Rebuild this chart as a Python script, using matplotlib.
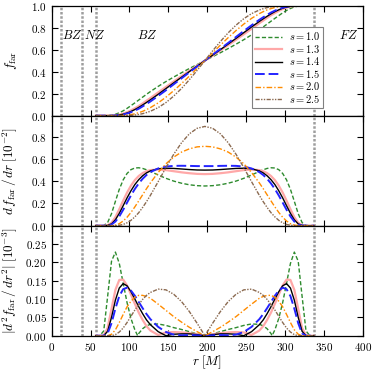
import matplotlib
matplotlib.use('Agg')
import matplotlib.pyplot as plt
from matplotlib.ticker import FuncFormatter

plt.rcParams['mathtext.fontset'] = 'cm'
plt.rcParams['font.family'] = 'serif'
plt.rcParams['font.serif'] = ['DejaVu Serif']

# ---------------- data ----------------
s_labels = ['1.0', '1.3', '1.4', '1.5', '2.0', '2.5']

r = [57, 62, 67, 72, 77, 82, 87, 92, 97, 102, 107, 112, 117, 122, 127, 137, 147, 157, 167, 177, 187, 197,
     207, 217, 227, 237, 247, 257, 267, 272, 277, 282, 287, 292, 297, 302, 307, 312, 317, 322, 327, 332, 337]

# f_far
f_10 = [0, 0, 0, 0.001, 0.004, 0.012, 0.026, 0.044, 0.066, 0.091, 0.116, 0.142, 0.168, 0.194, 0.219, 0.266, 0.310, 0.351, 0.390, 0.428, 0.464, 0.5,
        0.536, 0.572, 0.610, 0.649, 0.690, 0.734, 0.781, 0.806, 0.832, 0.858, 0.884, 0.909, 0.934, 0.956, 0.974, 0.988, 0.996, 0.999, 1, 1, 1]
f_13 = [0, 0, 0, 0, 0.001, 0.003, 0.009, 0.018, 0.031, 0.048, 0.067, 0.088, 0.111, 0.136, 0.160, 0.211, 0.261, 0.311, 0.359, 0.407, 0.454, 0.5,
        0.546, 0.593, 0.641, 0.689, 0.739, 0.789, 0.840, 0.864, 0.889, 0.912, 0.933, 0.952, 0.969, 0.982, 0.991, 0.997, 0.999, 1, 1, 1, 1]
f_14 = [0, 0, 0, 0, 0.000, 0.002, 0.006, 0.013, 0.024, 0.038, 0.055, 0.075, 0.097, 0.120, 0.144, 0.194, 0.246, 0.298, 0.349, 0.400, 0.450, 0.5,
        0.550, 0.600, 0.651, 0.702, 0.754, 0.806, 0.856, 0.880, 0.903, 0.925, 0.945, 0.962, 0.976, 0.987, 0.994, 0.998, 1.000, 1, 1, 1, 1]
f_15 = [0, 0, 0, 0, 0, 0.001, 0.004, 0.010, 0.019, 0.031, 0.046, 0.063, 0.084, 0.106, 0.129, 0.179, 0.231, 0.285, 0.339, 0.393, 0.446, 0.5,
        0.554, 0.607, 0.661, 0.715, 0.769, 0.821, 0.871, 0.894, 0.916, 0.937, 0.954, 0.969, 0.981, 0.990, 0.996, 0.999, 1, 1, 1, 1, 1]
f_20 = [0, 0, 0, 0, 0, 0, 0.001, 0.002, 0.005, 0.010, 0.017, 0.027, 0.039, 0.055, 0.073, 0.116, 0.168, 0.227, 0.291, 0.359, 0.429, 0.5,
        0.571, 0.641, 0.709, 0.773, 0.832, 0.884, 0.927, 0.945, 0.961, 0.973, 0.983, 0.990, 0.995, 0.998, 0.999, 1, 1, 1, 1, 1, 1]
f_25 = [0, 0, 0, 0, 0, 0, 0, 0, 0.001, 0.003, 0.006, 0.011, 0.018, 0.028, 0.040, 0.073, 0.119, 0.178, 0.247, 0.326, 0.411, 0.5,
        0.589, 0.674, 0.753, 0.822, 0.881, 0.927, 0.960, 0.972, 0.982, 0.989, 0.994, 0.997, 0.999, 1, 1, 1, 1, 1, 1, 1, 1]

# d f_far / dr  [1e-2]
d1_10 = [0, 0, 0.001, 0.028, 0.108, 0.219, 0.327, 0.412, 0.470, 0.504, 0.519, 0.521, 0.515, 0.503, 0.488, 0.456, 0.426, 0.401, 0.382, 0.368, 0.360, 0.357,
         0.360, 0.368, 0.382, 0.401, 0.426, 0.456, 0.488, 0.503, 0.515, 0.521, 0.519, 0.504, 0.470, 0.412, 0.327, 0.219, 0.108, 0.028, 0.001, 0, 0]
d1_13 = [0, 0, 0, 0.004, 0.026, 0.077, 0.148, 0.225, 0.298, 0.360, 0.410, 0.447, 0.473, 0.490, 0.500, 0.505, 0.500, 0.490, 0.480, 0.472, 0.466, 0.464,
         0.466, 0.472, 0.480, 0.490, 0.500, 0.505, 0.500, 0.490, 0.473, 0.447, 0.410, 0.360, 0.298, 0.225, 0.148, 0.077, 0.026, 0.004, 0, 0, 0]
d1_14 = [0, 0, 0, 0.002, 0.016, 0.053, 0.111, 0.180, 0.250, 0.314, 0.370, 0.414, 0.449, 0.475, 0.493, 0.512, 0.517, 0.515, 0.510, 0.505, 0.501, 0.500,
         0.501, 0.505, 0.510, 0.515, 0.517, 0.512, 0.493, 0.475, 0.449, 0.414, 0.370, 0.314, 0.250, 0.180, 0.111, 0.053, 0.016, 0.002, 0, 0, 0]
d1_15 = [0, 0, 0, 0.001, 0.010, 0.037, 0.083, 0.143, 0.208, 0.272, 0.330, 0.380, 0.422, 0.456, 0.482, 0.515, 0.532, 0.538, 0.539, 0.538, 0.536, 0.536,
         0.536, 0.538, 0.539, 0.538, 0.532, 0.515, 0.482, 0.456, 0.422, 0.380, 0.330, 0.272, 0.208, 0.143, 0.083, 0.037, 0.010, 0.001, 0, 0, 0]
d1_20 = [0, 0, 0, 0, 0.001, 0.005, 0.018, 0.042, 0.076, 0.119, 0.169, 0.223, 0.278, 0.333, 0.385, 0.479, 0.557, 0.617, 0.662, 0.691, 0.709, 0.714,
         0.709, 0.691, 0.662, 0.617, 0.557, 0.479, 0.385, 0.333, 0.278, 0.223, 0.169, 0.119, 0.076, 0.042, 0.018, 0.005, 0.001, 0, 0, 0, 0]
d1_25 = [0, 0, 0, 0, 0, 0.001, 0.004, 0.011, 0.026, 0.048, 0.079, 0.117, 0.164, 0.216, 0.273, 0.396, 0.523, 0.643, 0.746, 0.826, 0.876, 0.893,
         0.876, 0.826, 0.746, 0.643, 0.523, 0.396, 0.273, 0.216, 0.164, 0.117, 0.079, 0.048, 0.026, 0.011, 0.004, 0.001, 0, 0, 0, 0, 0]

# |d^2 f_far / dr^2|  [1e-3]
r_d2_10 = [57, 62, 67, 72, 77, 82, 87, 92, 97, 102, 107, 110.6, 112, 117, 122, 127, 137, 147, 157, 167, 177, 187, 197,
           207, 217, 227, 237, 247, 257, 267, 272, 277, 282, 283.4, 287, 292, 297, 302, 307, 312, 317, 322, 327, 332, 337]
d2_10 = [0, 0, 0.013, 0.107, 0.203, 0.228, 0.197, 0.143, 0.090, 0.047, 0.016, 0, 0.006, 0.019, 0.027, 0.031, 0.032, 0.028, 0.022, 0.017, 0.011, 0.005, 0,
         0.005, 0.011, 0.017, 0.022, 0.028, 0.032, 0.031, 0.027, 0.019, 0.006, 0, 0.016, 0.047, 0.090, 0.143, 0.197, 0.228, 0.203, 0.107, 0.013, 0, 0]
d2_13 = [0, 0, 0.001, 0.021, 0.073, 0.125, 0.152, 0.153, 0.137, 0.112, 0.087, 0.063, 0.043, 0.026, 0.014, 0.002, 0.009, 0.010, 0.009, 0.007, 0.004, 0,
         0.004, 0.007, 0.009, 0.010, 0.009, 0.002, 0.014, 0.026, 0.043, 0.063, 0.087, 0.112, 0.137, 0.153, 0.152, 0.125, 0.073, 0.021, 0.001, 0, 0]
d2_14 = [0, 0, 0, 0.012, 0.050, 0.097, 0.130, 0.142, 0.136, 0.120, 0.100, 0.079, 0.060, 0.043, 0.030, 0.011, 0.000, 0.004, 0.005, 0.005, 0.003, 0,
         0.003, 0.005, 0.005, 0.004, 0.000, 0.011, 0.030, 0.043, 0.060, 0.079, 0.100, 0.120, 0.136, 0.142, 0.130, 0.097, 0.050, 0.012, 0, 0, 0]
d2_15 = [0, 0, 0, 0.006, 0.034, 0.074, 0.108, 0.127, 0.131, 0.123, 0.109, 0.092, 0.075, 0.059, 0.045, 0.024, 0.010, 0.003, 0.001, 0.002, 0.001, 0,
         0.001, 0.002, 0.001, 0.003, 0.010, 0.024, 0.045, 0.059, 0.075, 0.092, 0.109, 0.123, 0.131, 0.127, 0.108, 0.074, 0.034, 0.006, 0, 0, 0]
d2_20 = [0, 0, 0, 0, 0.004, 0.016, 0.036, 0.058, 0.079, 0.094, 0.105, 0.110, 0.110, 0.107, 0.102, 0.086, 0.069, 0.052, 0.037, 0.023, 0.011, 0,
         0.011, 0.023, 0.037, 0.052, 0.069, 0.086, 0.102, 0.107, 0.110, 0.110, 0.105, 0.094, 0.079, 0.058, 0.036, 0.016, 0.004, 0, 0, 0, 0]
d2_25 = [0, 0, 0, 0, 0, 0.003, 0.010, 0.021, 0.036, 0.053, 0.070, 0.085, 0.099, 0.110, 0.118, 0.127, 0.125, 0.113, 0.093, 0.066, 0.034, 0,
         0.034, 0.066, 0.093, 0.113, 0.125, 0.127, 0.118, 0.110, 0.099, 0.085, 0.070, 0.053, 0.036, 0.021, 0.010, 0.003, 0, 0, 0, 0, 0]

zone_bounds = [12, 39.5, 56.5, 337.5]
zone_names = ['BZ', 'NZ', 'BZ', 'FZ']
zone_label_x = [26.5, 55.5, 123, 382]

# ---------------- styles ----------------
styles = [
    dict(color='#2e8b2e', ls=(0, (3, 1.6)), lw=1.0),
    dict(color='#ffa8a8', ls='-', lw=1.6),
    dict(color='black', ls='-', lw=1.0),
    dict(color='#2424ff', ls=(0, (5, 2)), lw=1.4),
    dict(color='darkorange', ls=(0, (4, 1.5, 1, 1.5)), lw=1.0),
    dict(color='#8b6a50', ls=(0, (3, 1, 1, 1, 1, 1)), lw=1.0),
]

f_all = [f_10, f_13, f_14, f_15, f_20, f_25]
d1_all = [d1_10, d1_13, d1_14, d1_15, d1_20, d1_25]
d2_all = [d2_10, d2_13, d2_14, d2_15, d2_20, d2_25]
r_d2_all = [r_d2_10, r, r, r, r, r]

fig = plt.figure(figsize=(3.74, 3.74), dpi=100)
L, R, B, T = 0.138, 0.970, 0.1024, 0.985
h = (T - B) / 3
ax1 = fig.add_axes([L, B + 2 * h, R - L, h])
ax2 = fig.add_axes([L, B + h, R - L, h])
ax3 = fig.add_axes([L, B, R - L, h])
axes = [ax1, ax2, ax3]

for i in range(6):
    st = styles[i]
    ax1.plot(r, f_all[i], label='$s = %s$' % s_labels[i], **st)
    ax2.plot(r, d1_all[i], **st)
    ax3.plot(r_d2_all[i], d2_all[i], **st)

for ax in axes:
    for xb in zone_bounds:
        ax.axvline(xb, color='0.62', ls=(0, (1, 0.7)), lw=1.8, zorder=0)
    ax.set_xlim(0, 400)
    ax.set_xticks(range(0, 401, 50))
    ax.tick_params(direction='in', top=True, right=True, length=4, width=0.8, labelsize=8)
    for sp in ax.spines.values():
        sp.set_linewidth(0.9)

ax1.set_ylim(0, 1.0)
ax1.set_yticks([0, 0.2, 0.4, 0.6, 0.8, 1.0])
ax2.set_ylim(0, 0.99)
ax2.set_yticks([0, 0.2, 0.4, 0.6, 0.8])
ax3.set_ylim(0, 0.30)
ax3.set_yticks([0, 0.05, 0.10, 0.15, 0.20, 0.25])

ax1.yaxis.set_major_formatter(FuncFormatter(lambda v, p: '$%.1f$' % v))
ax2.yaxis.set_major_formatter(FuncFormatter(lambda v, p: '$%.1f$' % v))
ax3.yaxis.set_major_formatter(FuncFormatter(lambda v, p: '$%.2f$' % v))
ax3.xaxis.set_major_formatter(FuncFormatter(lambda v, p: '$%d$' % v))
ax1.tick_params(labelbottom=False)
ax2.tick_params(labelbottom=False)

ax1.set_ylabel(r'$f_{\mathrm{far}}$', fontsize=9.5)
ax2.set_ylabel(r'$d\,f_{\mathrm{far}}\,/\,dr\;[10^{-2}]$', fontsize=9.5)
ax3.set_ylabel(r'$|d^2 f_{\mathrm{far}}\,/\,dr^2|\;[10^{-3}]$', fontsize=9.5)
ax3.set_xlabel(r'$r\;[M]$', fontsize=9.5, labelpad=1)
for ax in axes:
    ax.yaxis.set_label_coords(-0.105, 0.5)

for xn, nm in zip(zone_label_x, zone_names):
    ax1.text(xn, 0.73, '$%s$' % nm, fontsize=9, ha='center', va='center')

leg = ax1.legend(loc='lower left', bbox_to_anchor=(0.643, 0.07), borderaxespad=0,
                 fontsize=7.5, handlelength=2.6, labelspacing=0.05, handletextpad=0.65,
                 borderpad=0.3, fancybox=False, framealpha=1, edgecolor='0.5')
leg.get_frame().set_linewidth(0.8)

fig.savefig('out.png', dpi=100)
